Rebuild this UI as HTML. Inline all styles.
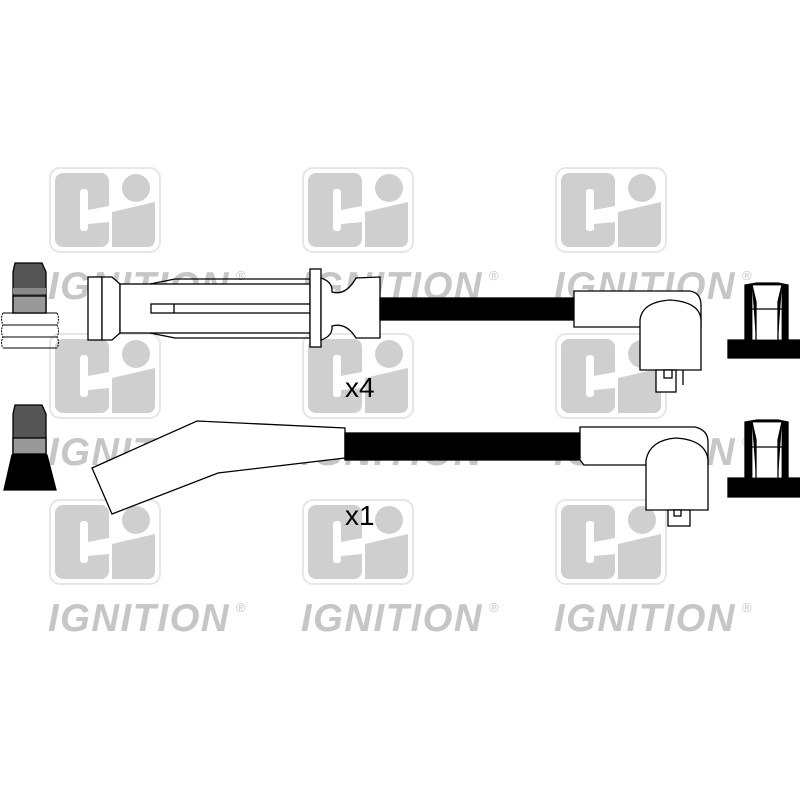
<!DOCTYPE html>
<html><head><style>html,body{margin:0;padding:0;background:#fff}svg{display:block}</style></head>
<body>
<svg width="800" height="800" viewBox="0 0 800 800" xmlns="http://www.w3.org/2000/svg">
<defs>
<g id="logo">
  <rect x="0" y="0" width="110" height="84" rx="10" fill="none" stroke="#e6e6e6" stroke-width="2"/>
  <rect x="5" y="5" width="54" height="74" rx="8" fill="#cfcfcf"/>
  <rect x="30" y="21" width="8" height="42" rx="3" fill="#fff"/>
  <polygon points="38,42 59,38 59,54 38,56" fill="#fff"/>
  <path d="M62 44 L105 34 L105 71 Q105 79 97 79 L62 79 Z" fill="#cfcfcf"/>
  <circle cx="86" cy="20" r="14" fill="#cfcfcf"/>
  <text x="-2" y="131" font-family="Liberation Sans, sans-serif" font-size="39" font-weight="bold" font-style="italic" fill="#c6c6c6" letter-spacing="1.5" textLength="182" lengthAdjust="spacingAndGlyphs">IGNITION</text>
  <text x="186" y="112" font-family="Liberation Sans, sans-serif" font-size="13" fill="#c6c6c6">®</text>
</g>
</defs>
<use href="#logo" x="50" y="168"/><use href="#logo" x="303" y="168"/><use href="#logo" x="556" y="168"/>
<use href="#logo" x="50" y="334"/><use href="#logo" x="303" y="334"/><use href="#logo" x="556" y="334"/>
<use href="#logo" x="50" y="500"/><use href="#logo" x="303" y="500"/><use href="#logo" x="556" y="500"/>

<g stroke="#000" stroke-width="1.3" fill="#fff">
<path d="M15 263 L42 263 L46 272 L46 313 L13 313 L13 272 Z" fill="#555"/>
<rect x="13" y="288" width="33" height="6" fill="#888" stroke="none"/>
<rect x="13" y="296" width="33" height="17" fill="#999"/>
<path d="M3 313 H57 M3 325 H57 M3 337 H57 M3 348 H57" fill="none" stroke-width="1"/>
<path d="M3 313 Q0 319 3 325 Q0 331 3 337 Q0 343 3 348 M57 313 Q60 319 57 325 Q60 331 57 337 Q60 343 57 348" fill="none" stroke-width="1" stroke-dasharray="2,1"/>
<path d="M15 405 L42 405 L46 414 L46 455 L13 455 L13 414 Z" fill="#555"/>
<rect x="13" y="438" width="33" height="16" fill="#999"/>
<path d="M12 455 L47 455 L56 490 L4 490 Z" fill="#000"/>

<rect x="88" y="277" width="14" height="63"/>
<path d="M102 277 L112 277 L120 284 L120 333 L112 340 L102 340 Z"/>
<rect x="120" y="284" width="190" height="49"/>
<path d="M150 284 L175 279 L310 279 L310 284 M150 333 L175 338 L310 338 L310 333" fill="none"/>
<rect x="151" y="304" width="159" height="9"/>
<line x1="174" y1="304" x2="174" y2="313"/>
<rect x="310" y="269" width="11" height="78"/>
<path d="M321 278 Q333 282 332 292 Q346 296 356 278 L380 277 L380 338 L356 338 Q346 322 332 326 Q333 336 321 340 Z"/>
<rect x="380" y="298" width="196" height="22" fill="#000"/>
<path d="M574 291 L690 291 Q701 293 701 305 L701 327 L574 327 Z"/>
<path d="M640 370 L640 320 Q642 302 670 300 Q700 302 701 320 L701 370 Z"/>
<rect x="656" y="370" width="20" height="22"/>
<rect x="664" y="370" width="8" height="8"/>
<line x1="683" y1="370" x2="683" y2="385"/>
<path d="M728 358 L728 340 L745 340 L745 285 L757 283 L778 283 L788 285 L788 340 L800 340 L800 358 Z" fill="#000"/>
<rect x="752" y="285" width="30" height="55" fill="#fff" stroke-width="0.8"/>
<path d="M752 285 L756 302 L756 340 M782 285 L778 302 L778 340" fill="#000"/>
<line x1="752" y1="309" x2="782" y2="309"/>
<path d="M92 468 L197 421 L345 428 L345 458 L218 473 L112 514 Z"/>
<rect x="345" y="433" width="236" height="27" fill="#000"/>
<path d="M580 427 L695 427 Q708 430 708 442 L708 465 L584 465 L580 460 Z"/>
<path d="M646 510 L646 460 Q650 440 676 438 Q706 440 708 460 L708 510 Z"/>
<rect x="668" y="510" width="22" height="16"/>
<rect x="674" y="510" width="7" height="6"/>
<path d="M728 497 L728 478 L745 478 L745 422 L757 420 L778 420 L788 422 L788 478 L800 478 L800 497 Z" fill="#000"/>
<rect x="752" y="422" width="30" height="56" fill="#fff" stroke-width="0.8"/>
<path d="M752 422 L756 440 L756 478 M782 422 L778 440 L778 478" fill="#000"/>
<line x1="752" y1="447" x2="782" y2="447"/>
</g>
<text x="345" y="397" font-family="Liberation Sans, sans-serif" font-size="28" fill="#000">x4</text>
<text x="345" y="525" font-family="Liberation Sans, sans-serif" font-size="28" fill="#000">x1</text>
</svg>
</body></html>
